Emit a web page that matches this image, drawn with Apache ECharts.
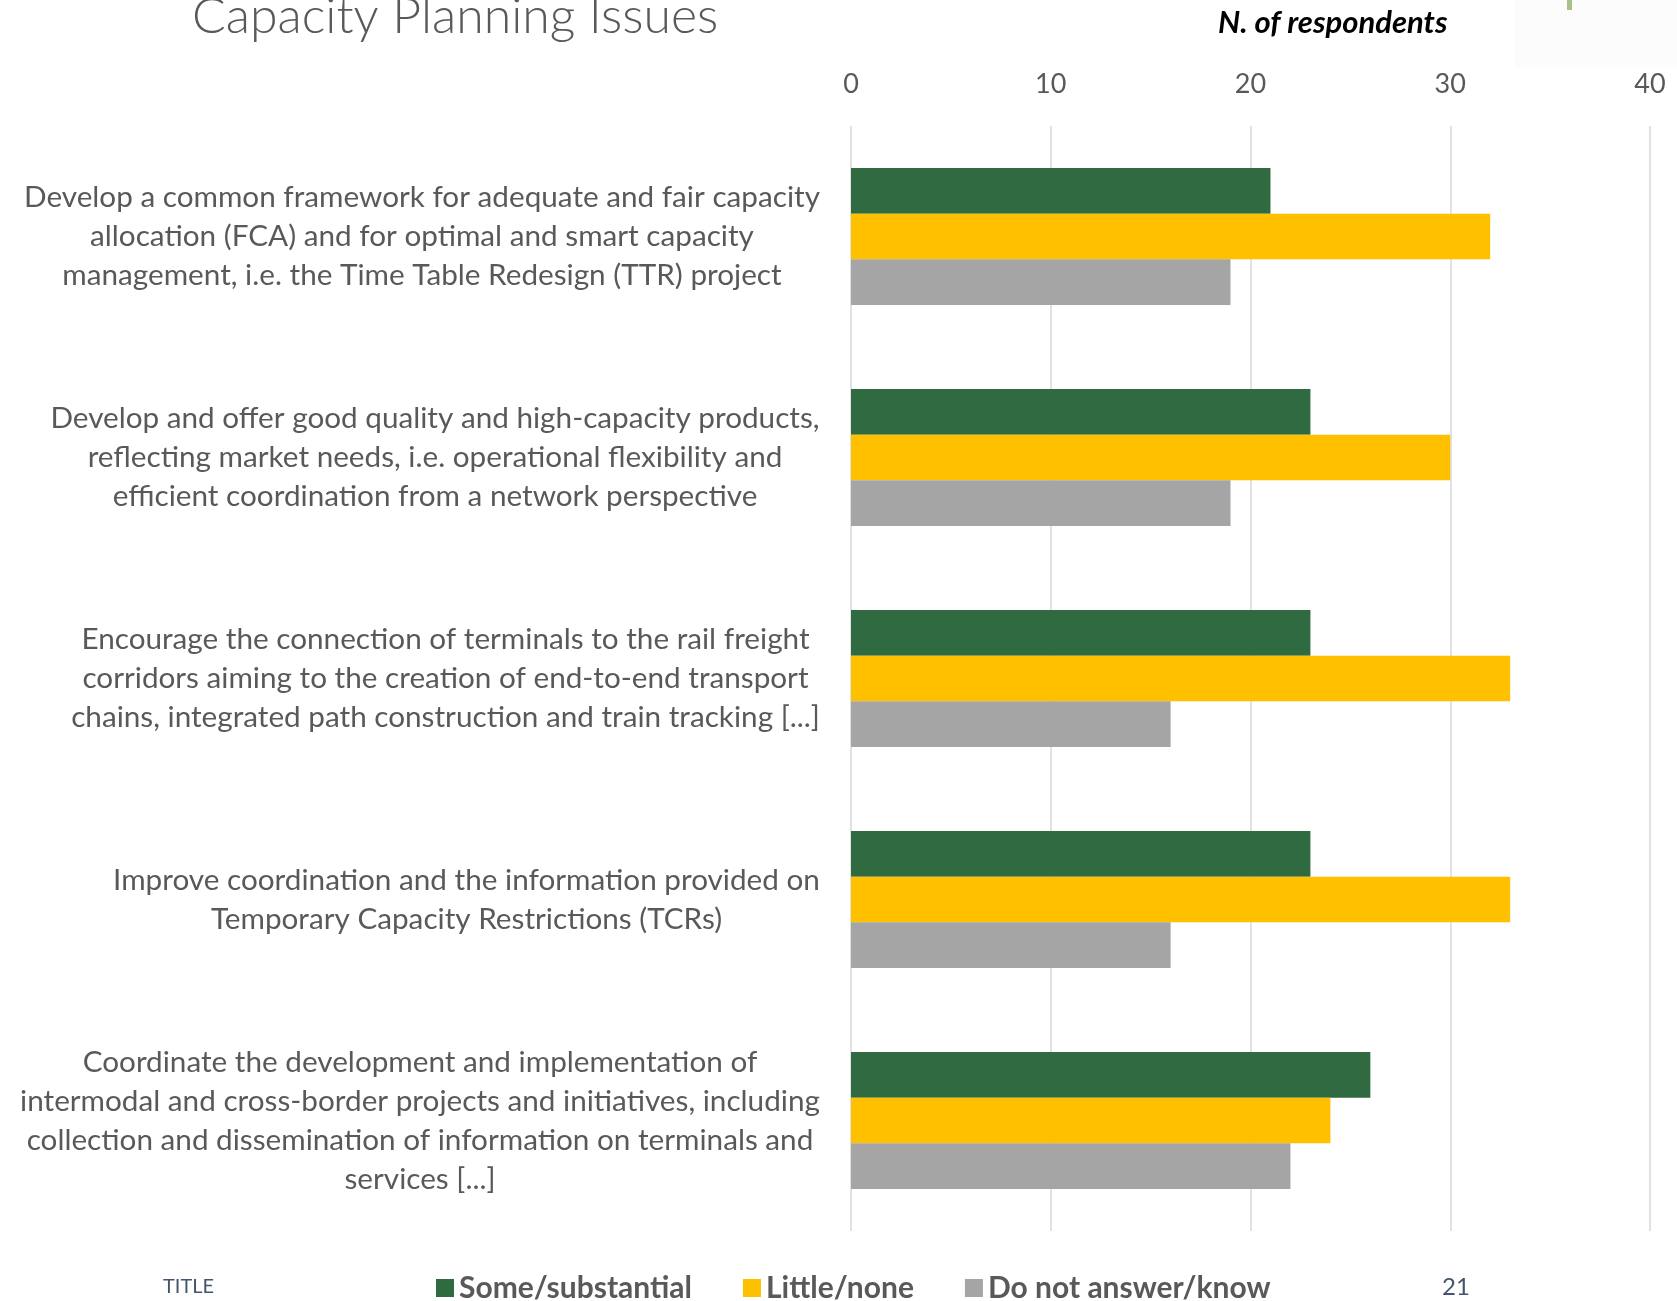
<!DOCTYPE html>
<html>
<head>
<meta charset="utf-8">
<script src="https://cdn.jsdelivr.net/npm/echarts@6/dist/echarts.min.js"></script>
<style>
  html, body { margin: 0; padding: 0; background: #fff; }
  #chart { width: 1677px; height: 1301px; }
</style>
</head>
<body>
<div id="chart"></div>
<script>
// categories (top to bottom), each line of the wrapped label
const categories = [
  ['Develop a common framework for adequate and fair capacity',
   'allocation (FCA) and for optimal and smart capacity',
   'management, i.e. the Time Table Redesign (TTR) project'],
  ['Develop and offer good quality and high-capacity products,',
   'reflecting market needs, i.e. operational flexibility and',
   'efficient coordination from a network perspective'],
  ['Encourage the connection of terminals to the rail freight',
   'corridors aiming to the creation of end-to-end transport',
   'chains, integrated path construction and train tracking [...]'],
  ['Improve coordination and the information provided on',
   'Temporary Capacity Restrictions (TCRs)'],
  ['Coordinate the development and implementation of',
   'intermodal and cross-border projects and initiatives, including',
   'collection and dissemination of information on terminals and',
   'services [...]']
];
const seriesNames = ['Some/substantial', 'Little/none', 'Do not answer/know'];
const someSubstantial = [21, 23, 23, 23, 26];
const littleNone = [32, 30, 33, 33, 24];
const noAnswer = [19, 19, 16, 16, 22];
const colors = ['#2F6A40', '#FFC000', '#A5A5A5'];

const labelSize = 29.7;
const textColor = '#595959';

// measure each label block so lines can be centred inside a right-aligned block
const ctx = document.createElement('canvas').getContext('2d');
ctx.font = labelSize + 'px Lato';
const rich = {};
categories.forEach((lines, i) => {
  const w = Math.max(...lines.map(l => ctx.measureText(l).width));
  rich['c' + i] = { width: Math.ceil(w), align: 'center', fontFamily: 'Lato', fontSize: labelSize, lineHeight: 39, color: textColor };
});

const chart = echarts.init(document.getElementById('chart'));

const option = {
  animation: false,
  title: [
    {
      text: 'Capacity Planning Issues',
      left: 187, top: -13,
      textStyle: { fontFamily: 'Lato', fontWeight: 300, fontSize: 50, color: textColor }
    },
    {
      text: 'N. of respondents',
      left: 1213, top: 2,
      textStyle: { fontFamily: 'Lato', fontWeight: 'bold', fontStyle: 'italic', fontSize: 31, color: '#000' }
    },
    {
      text: 'TITLE',
      left: 158, top: 1272,
      textStyle: { fontFamily: 'Lato', fontWeight: 'normal', fontSize: 20, color: '#44546A' }
    },
    {
      text: '21',
      left: 1437, top: 1270,
      textStyle: { fontFamily: 'Lato', fontWeight: 'normal', fontSize: 24, color: '#44546A' }
    }
  ],
  graphic: [
    { type: 'rect', left: 1515, top: 0, shape: { width: 162, height: 67 }, style: { fill: '#FCFCFC' }, silent: true },
    { type: 'rect', left: 1567, top: 0, shape: { width: 5, height: 10 }, style: { fill: '#A9C08A' }, silent: true }
  ],
  legend: {
    data: seriesNames,
    left: 431,
    top: 1268,
    icon: 'rect',
    itemWidth: 18,
    itemHeight: 18,
    itemGap: 51,
    textStyle: { fontFamily: 'Lato', fontWeight: 'bold', fontSize: 30, color: textColor }
  },
  grid: { left: 851, right: 27, top: 126, bottom: 70, containLabel: false },
  xAxis: {
    type: 'value',
    position: 'top',
    min: 0, max: 40, interval: 10,
    axisLine: { show: false },
    axisTick: { show: false },
    axisLabel: { margin: 28, fontFamily: 'Lato', fontSize: 27, color: textColor },
    splitLine: { show: true, lineStyle: { color: '#D9D9D9', width: 1.5 } }
  },
  yAxis: {
    type: 'category',
    inverse: true,
    data: categories.map(l => l.join('\n')),
    axisLine: { show: false },
    axisTick: { show: false },
    axisLabel: {
      margin: 31,
      align: 'right',
      interval: 0,
      formatter: (val, idx) => categories[idx].map(l => '{c' + idx + '|' + l + '}').join('\n'),
      rich: rich
    }
  },
  series: [
    { name: seriesNames[0], type: 'bar', data: someSubstantial, itemStyle: { color: colors[0] }, barGap: '0%', barCategoryGap: '38%' },
    { name: seriesNames[1], type: 'bar', data: littleNone, itemStyle: { color: colors[1] }, barGap: '0%', barCategoryGap: '38%' },
    { name: seriesNames[2], type: 'bar', data: noAnswer, itemStyle: { color: colors[2] }, barGap: '0%', barCategoryGap: '38%' }
  ]
};

chart.setOption(option);
</script>
</body>
</html>
